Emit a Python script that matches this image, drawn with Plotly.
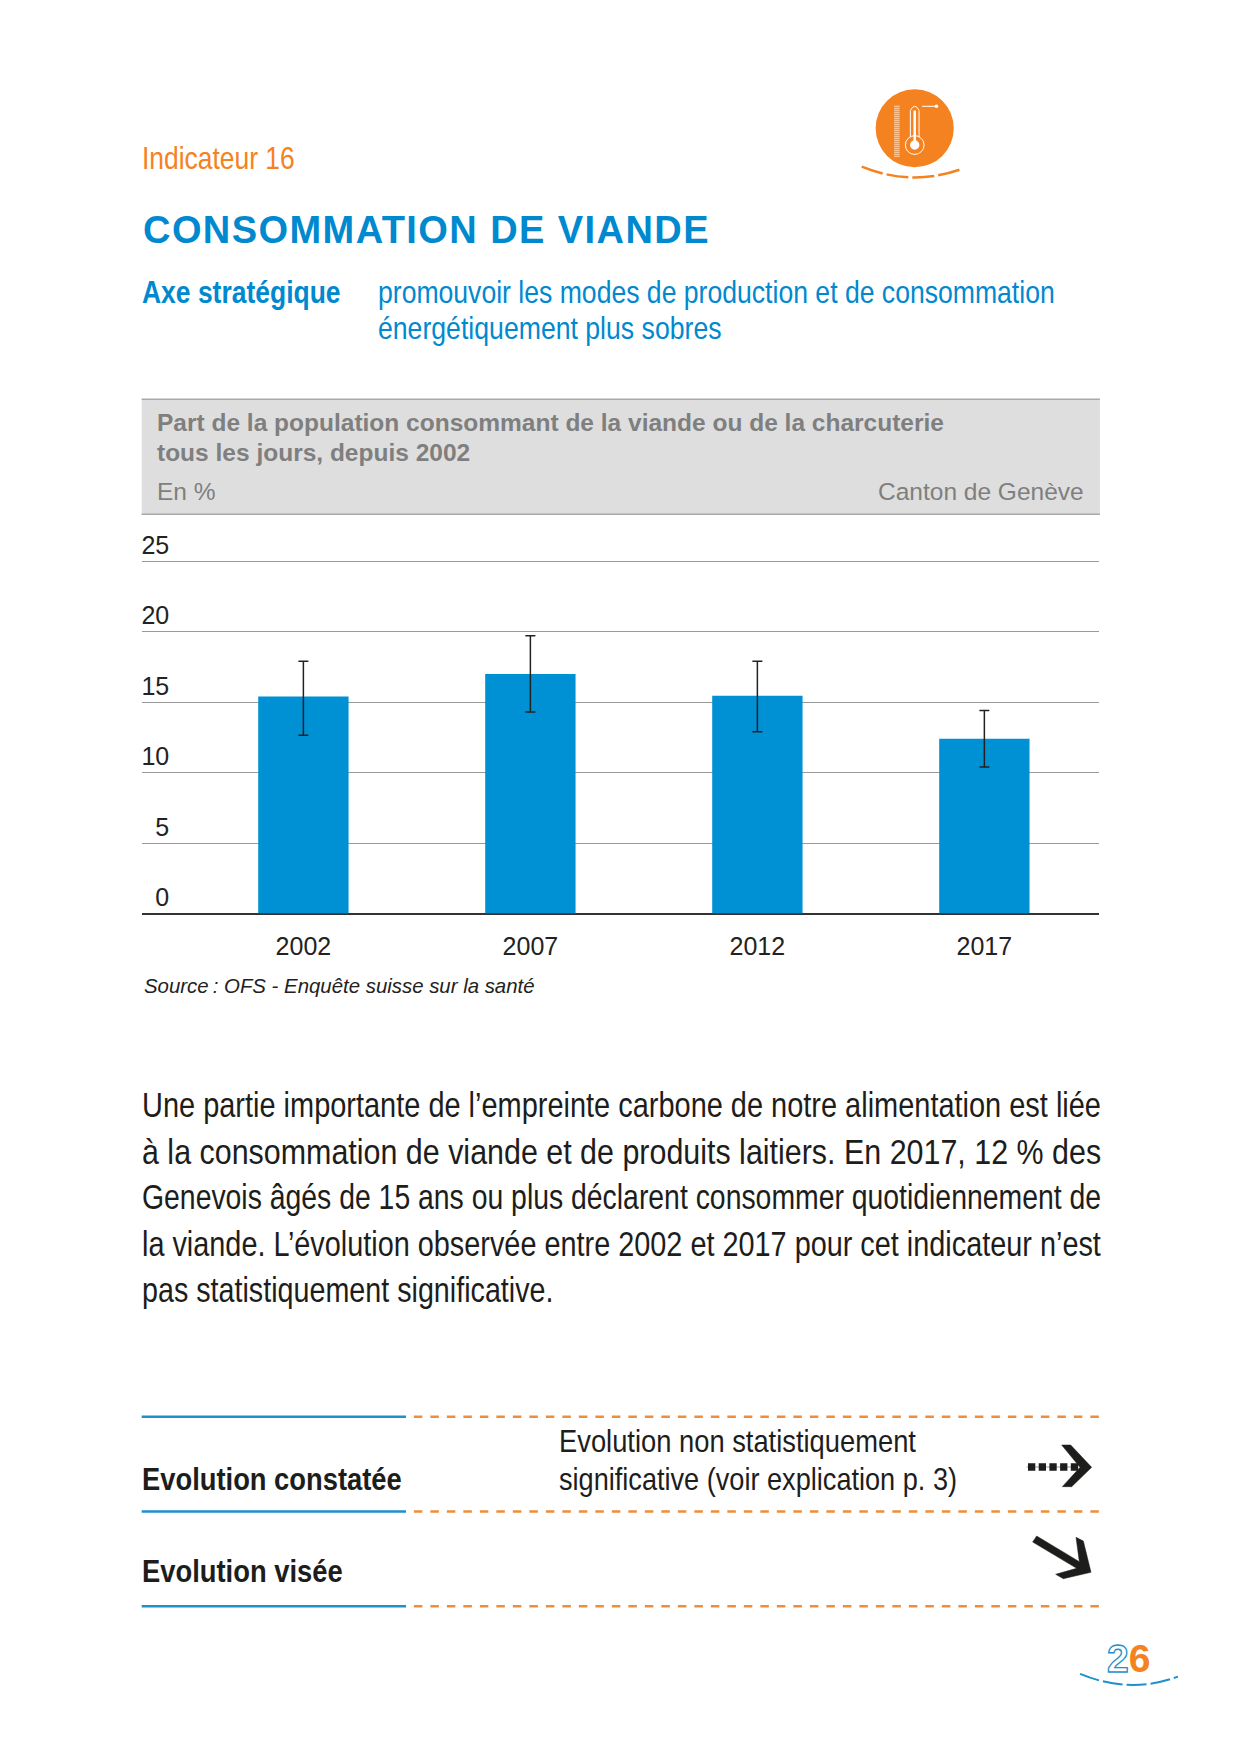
import json
import plotly.graph_objects as go

years = ["2002", "2007", "2012", "2017"]
values = [15.4, 17.0, 15.45, 12.4]
ci_high = [17.9, 19.7, 17.9, 14.4]
ci_low = [12.65, 14.3, 12.9, 10.4]
y_ticks = [0, 5, 10, 15, 20, 25]

W, H = 1241, 1749
F = 1.1155
SANS = "Liberation Sans, Arial, sans-serif"
NARROW = SANS
ORANGE = "#F58220"
BLUE = "#0090D4"
TITLE = "#0089CF"
GREY = "#7F7F7F"
DARK = "#1D1D1B"

def X(v): return v * F / W
def Y(v): return 1 - v * F / H

fig = go.Figure()
fig.add_trace(go.Bar(
    x=years, y=values, width=0.398, marker=dict(color=BLUE, line=dict(width=0)),
    error_y=dict(type="data", symmetric=False,
                 array=[h - v for h, v in zip(ci_high, values)],
                 arrayminus=[v - l for l, v in zip(ci_low, values)],
                 color="#222222", thickness=1.5, width=5),
    showlegend=False))

shapes = []
anns = []
fit = {}
spread = {}

def text(x, y, s, size, color, family=SANS, anchor="left", bold=False, italic=False, width=None, spaced=None):
    if width: fit[s] = round(width * F, 1)
    if spaced: spread[s] = round(spaced * F, 1)
    if bold: s = "<b>" + s + "</b>"
    if italic: s = "<i>" + s + "</i>"
    anns.append(dict(x=X(x), y=Y(y), xref="paper", yref="paper", text=s, showarrow=False,
                     xanchor=anchor, yanchor="middle", align=anchor,
                     xshift={"left": -2, "right": 3}.get(anchor, 0),
                     font=dict(size=size, color=color, family=family)))

def line(x0, y0, x1, y1, color, width=1, dash=None):
    shapes.append(dict(type="line", xref="paper", yref="paper", x0=X(x0), y0=Y(y0), x1=X(x1), y1=Y(y1),
                       line=dict(color=color, width=width, dash=dash or "solid")))

def path(pts, color, width=1, dash=None, cmd="L", fill=None):
    d = "M " + " ".join(
        (f"{X(a):.5f},{Y(b):.5f}" if i == 0 else (f"{cmd} " if i == 1 or cmd == "L" else "") + f"{X(a):.5f},{Y(b):.5f}")
        for i, (a, b) in enumerate(pts))
    if fill: d += " Z"
    shapes.append(dict(type="path", xref="paper", yref="paper", path=d,
                       fillcolor=fill or "rgba(0,0,0,0)",
                       line=dict(color=color, width=width, dash=dash or "solid")))

def circle(cx, cy, r, fill, lc=None, lw=0):
    shapes.append(dict(type="circle", xref="paper", yref="paper", x0=X(cx - r), x1=X(cx + r),
                       y0=Y(cy + r), y1=Y(cy - r), fillcolor=fill,
                       line=dict(color=lc or fill, width=lw)))

# header
text(127, 142, "Indicateur 16", 32, ORANGE, NARROW, width=137)
text(128.5, 206, "CONSOMMATION DE VIANDE", 38, TITLE, SANS, bold=True, spaced=507)
text(127, 262, "Axe stratégique", 32, TITLE, NARROW, bold=True, width=178)
text(338.5, 262, "promouvoir les modes de production et de consommation", 32, TITLE, NARROW, width=607)
text(338.5, 294, "énergétiquement plus sobres", 32, TITLE, NARROW, width=308)

# grey band
shapes.append(dict(type="rect", xref="paper", yref="paper", x0=X(127), x1=X(986), y0=Y(461), y1=Y(358),
                   fillcolor="#DEDEDE", line=dict(width=0), layer="below"))
line(127, 358, 986, 358, "#A8A8A8", 1.5)
line(127, 461, 986, 461, "#A8A8A8", 1.5)
text(141, 379, "Part de la population consommant de la viande ou de la charcuterie", 24.5, GREY, SANS, bold=True)
text(141, 406, "tous les jours, depuis 2002", 24.5, GREY, SANS, bold=True)
text(141, 441, "En %", 24.5, GREY)
text(971, 441, "Canton de Genève", 24.5, GREY, anchor="right")
text(129, 884, "Source\u2009: OFS - Enquête suisse sur la santé", 20.4, "#222222", SANS, italic=True)

# body
body = [
    ("Une partie importante de l’empreinte carbone de notre alimentation est liée", 860),
    ("à la consommation de viande et de produits laitiers. En 2017, 12 % des", 860),
    ("Genevois âgés de 15 ans ou plus déclarent consommer quotidiennement de", 860),
    ("la viande. L’évolution observée entre 2002 et 2017 pour cet indicateur n’est", 860),
    ("pas statistiquement significative.", 369),
]
for yy, (s, wd) in zip([990.5, 1032, 1073, 1114.5, 1156], body):
    text(127, yy, s, 36, DARK, NARROW, width=wd)

# evolution table
for yy in (1270, 1355, 1440):
    line(127, yy, 364, yy, "#1E90CC", 2.4)
    line(371, yy, 986, yy, "#EE8E3A", 2.4, "8.5px,8px")
text(127, 1325.5, "Evolution constatée", 32, DARK, NARROW, bold=True, width=233)
text(127, 1408, "Evolution visée", 32, DARK, NARROW, bold=True, width=180)
text(501, 1292, "Evolution non statistiquement", 32, DARK, NARROW, width=320)
text(501, 1326, "significative (voir explication p. 3)", 32, DARK, NARROW, width=357)

# arrows: outlines measured on a crop at (1010, 1430), 3x
def crop(pts): return [((1010 + a / 3) / F, (1430 + b / 3) / F) for a, b in pts]
ya = crop([(0, 111)])[0][1]
line(crop([(50, 0)])[0][0], ya, crop([(205, 0)])[0][0], ya, "#BBBBBB", 1.5)
line(crop([(54, 0)])[0][0], ya, crop([(212, 0)])[0][0], ya, DARK, 7.3, "7.3px,3.4px")
path(crop([(155, 45), (182, 45), (245, 112), (185, 170), (157, 170), (210, 112)]), DARK, 0.5, fill=DARK)
path(crop([(80, 318), (208, 395), (198, 322), (220, 333), (243, 427), (160, 446), (137, 433), (200, 415), (68, 336)]),
     DARK, 0.5, fill=DARK)

# page number
text(1011.7, 1487, '<span style="color:#FFFFFF;stroke:#1E90CC;stroke-width:1.3px">2</span><span style="color:#F58220">6</span>',
     39, ORANGE, SANS, anchor="center", bold=True)
path([(968.2, 1500.6), (1013, 1519), (1056, 1503)], "#1E90CC", 2, "20px,4px", cmd="Q")

# badge icon
cx, cy = 820, 115
circle(cx, cy, 35, ORANGE)
path([(772.5, 149.4), (817, 167.4), (861.2, 151.8)], ORANGE, 2.5, "22px,4px", cmd="Q")
WHITE = "#FFFFFF"
circle(cx, cy + 15, 8.4, "rgba(0,0,0,0)", WHITE, 1)
circle(cx, cy + 15, 4.2, WHITE)
line(cx - 3.9, cy - 16, cx - 3.9, cy + 8, WHITE, 1)
line(cx + 3.9, cy - 16, cx + 3.9, cy + 8, WHITE, 1)
line(cx, cy - 16, cx, cy + 12, WHITE, 2.5)
path([(cx - 3.9, cy - 16), (cx, cy - 23.5), (cx + 3.9, cy - 16)], WHITE, 1, cmd="Q")
line(cx + 6.6, cy - 19.7, cx + 19.5, cy - 19.7, WHITE, 1)
circle(cx + 19.5, cy - 19.7, 1.6, WHITE)
line(cx - 16, cy - 20.3, cx - 16, cy + 25.5, "#FFD9B5", 5.5, "1px,1px")

top_value = 25.15
fig.update_layout(
    width=W, height=H, autosize=False,
    margin=dict(l=0, r=0, t=0, b=0),
    paper_bgcolor="white", plot_bgcolor="white",
    shapes=shapes, annotations=anns,
    xaxis=dict(domain=[X(127.5), X(985)], type="category", categoryorder="array", categoryarray=years,
               range=[-0.71, 3.504], showgrid=False, showline=False, zeroline=False, automargin=False,
               tickfont=dict(size=25, color="#222222", family=SANS), ticks="", ticklabelstandoff=15),
    yaxis=dict(domain=[Y(819), Y(819 - 316 * top_value / 25)], range=[0, top_value], tickvals=y_ticks,
               showgrid=True, gridcolor="#9A9A9A", gridwidth=1, showline=False, automargin=False,
               zeroline=True, zerolinecolor="#333333", zerolinewidth=1.5,
               ticks="", tickfont=dict(size=25, color="#222222", family=SANS),
               ticklabelposition="outside", ticklabelstandoff=-28, ticklabelshift=-16),
)

# the reference's narrow lettering: each line is fitted to its measured width
post = """
document.body.style.margin='0';
var fitW = %s, spreadW = %s;
var gd = document.querySelector('.plotly-graph-div');
function fitText(){
  gd.querySelectorAll('text.annotation-text').forEach(function(t){
    var s = t.textContent, w = fitW[s];
    if(w){
      var x0 = parseFloat(t.getAttribute('x')) || 0;
      var k = w / t.getComputedTextLength();
      t.setAttribute('transform', 'translate('+x0+',0) scale('+k+',1) translate('+(-x0)+',0)');
    }
    if(spreadW[s]){ t.setAttribute('textLength', spreadW[s]); t.setAttribute('lengthAdjust','spacing'); }
  });
}
fitText();
if(gd.on) gd.on('plotly_afterplot', fitText);
""" % (json.dumps(fit, ensure_ascii=False), json.dumps(spread, ensure_ascii=False))
fig.write_html("out.html", post_script=post, config={"displayModeBar": False})
